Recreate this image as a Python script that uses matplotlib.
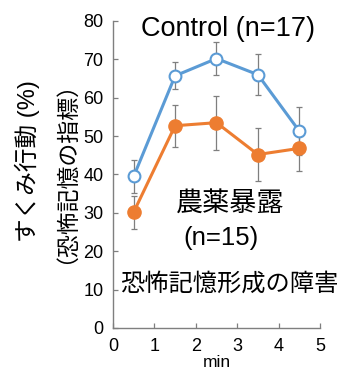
import matplotlib
matplotlib.use("Agg")
import matplotlib.pyplot as plt

plt.rcParams['font.family'] = ['Liberation Sans', 'Noto Sans CJK JP']

minutes = [0.5, 1.5, 2.5, 3.5, 4.5]
control_mean = [39.5, 65.7, 70.2, 66.0, 51.3]
control_err = [4.2, 3.5, 4.3, 5.4, 6.3]
pest_mean = [30.2, 52.7, 53.5, 45.2, 46.8]
pest_err = [4.3, 5.5, 7.0, 6.8, 5.8]

xticks = [0, 1, 2, 3, 4, 5]
yticks = [0, 10, 20, 30, 40, 50, 60, 70, 80]

blue = '#5B9BD5'
orange = '#ED7D31'
gray = '#7F7F7F'

fig = plt.figure(figsize=(3.45, 3.74), dpi=100)
ax = fig.add_axes([0.3275, 0.123, 0.60, 0.821])

ax.errorbar(minutes, control_mean, yerr=control_err, fmt='none', ecolor=gray,
            elinewidth=0.9, capsize=2.5, capthick=0.9, zorder=2)
ax.errorbar(minutes, pest_mean, yerr=pest_err, fmt='none', ecolor=gray,
            elinewidth=0.9, capsize=2.5, capthick=0.9, zorder=2)
ax.plot(minutes, pest_mean, color=orange, lw=2.2, marker='o', ms=9.5,
        mfc=orange, mec=orange, zorder=3)
ax.plot(minutes, control_mean, color=blue, lw=2.2, marker='o', ms=8.5,
        mfc='white', mec=blue, mew=1.5, zorder=4)

ax.set_xlim(0, 5)
ax.set_ylim(0, 80)
ax.set_xticks(xticks)
ax.set_yticks(yticks)
for s in ['top', 'right']:
    ax.spines[s].set_visible(False)
for s in ['left', 'bottom']:
    ax.spines[s].set_color('#7F7F7F')
    ax.spines[s].set_linewidth(1.0)
ax.tick_params(direction='in', length=3.5, width=0.9, color='#7F7F7F',
               labelsize=13, pad=7)
ax.set_xlabel('min', fontsize=12.5, labelpad=0)

fig.text(0.078, 0.57, 'すくみ行動 (%)', rotation=90, fontsize=17,
         ha='center', va='center')
fig.text(0.157, 0.57, '（恐怖記憶の指標）', rotation=90, fontsize=16.5,
         ha='center', va='center', family=['Noto Sans CJK JP'])

ax.text(2.77, 78.0, 'Control (n=17)', fontsize=19.5, ha='center', va='center',
        clip_on=False)
ax.text(2.83, 32.6, '農薬暴露', fontsize=19.5, ha='center', va='center',
        family=['Noto Sans CJK JP'])
ax.text(2.6, 23.4, '(n=15)', fontsize=18.5, ha='center', va='center')
ax.text(2.8, 11.5, '恐怖記憶形成の障害', fontsize=17.5, ha='center', va='center',
        family=['Noto Sans CJK JP'], clip_on=False)

fig.savefig('out.png', dpi=100)
